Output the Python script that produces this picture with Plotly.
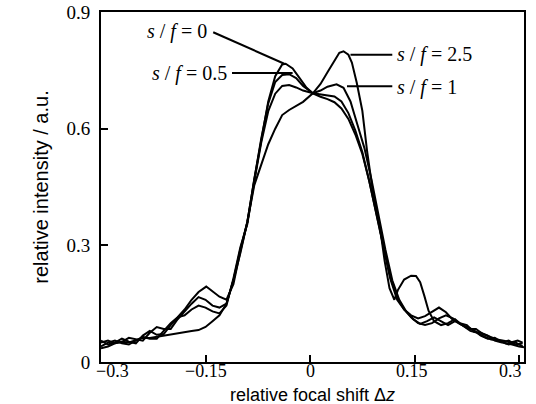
import plotly.graph_objects as go

# ---- data ----
x_sf0 = [-0.300, -0.290, -0.280, -0.270, -0.260, -0.250, -0.240, -0.230, -0.220, -0.210, -0.200, -0.190, -0.180, -0.170,
         -0.160, -0.149, -0.140, -0.130, -0.120, -0.110, -0.100, -0.090, -0.080, -0.070, -0.060, -0.050, -0.040, -0.035,
         -0.025, -0.015, -0.005, 0.004, 0.015, 0.025, 0.035, 0.045, 0.055, 0.065, 0.075, 0.085, 0.095, 0.105, 0.115, 0.125,
         0.135, 0.145, 0.155, 0.165, 0.175, 0.185, 0.195, 0.205, 0.215, 0.225, 0.235, 0.245, 0.255, 0.265, 0.275, 0.285,
         0.295, 0.305]
y_sf0 = [0.040, 0.050, 0.055, 0.048, 0.045, 0.055, 0.065, 0.060, 0.060, 0.080, 0.100, 0.115, 0.135, 0.160,
         0.180, 0.194, 0.182, 0.168, 0.160, 0.200, 0.285, 0.360, 0.470, 0.570, 0.670, 0.735, 0.765, 0.767,
         0.755, 0.730, 0.705, 0.691, 0.682, 0.676, 0.668, 0.652, 0.625, 0.585, 0.535, 0.465, 0.385, 0.300, 0.220, 0.165,
         0.135, 0.115, 0.100, 0.095, 0.100, 0.112, 0.120, 0.112, 0.098, 0.090, 0.082, 0.068, 0.060, 0.062, 0.052, 0.045,
         0.050, 0.040]

x_sf05 = [-0.300, -0.290, -0.280, -0.270, -0.260, -0.250, -0.240, -0.230, -0.220, -0.210, -0.200, -0.190, -0.180, -0.170,
          -0.160, -0.150, -0.140, -0.130, -0.120, -0.110, -0.100, -0.090, -0.080, -0.070, -0.060, -0.050, -0.040, -0.030,
          -0.020, -0.010, 0.004, 0.015, 0.025, 0.035, 0.045, 0.055, 0.065, 0.075, 0.085, 0.095, 0.105, 0.115, 0.125,
          0.135, 0.145, 0.155, 0.165, 0.175, 0.185, 0.195, 0.205, 0.215, 0.225, 0.235, 0.245, 0.255, 0.265, 0.275, 0.285,
          0.295, 0.305]
y_sf05 = [0.050, 0.055, 0.048, 0.052, 0.062, 0.058, 0.055, 0.075, 0.090, 0.085, 0.085, 0.110, 0.130, 0.150,
          0.167, 0.160, 0.145, 0.140, 0.150, 0.210, 0.290, 0.360, 0.470, 0.575, 0.665, 0.720, 0.738, 0.740,
          0.730, 0.710, 0.691, 0.688, 0.686, 0.683, 0.670, 0.640, 0.595, 0.540, 0.465, 0.380, 0.295, 0.215, 0.160,
          0.135, 0.120, 0.112, 0.118, 0.130, 0.140, 0.128, 0.108, 0.100, 0.095, 0.078, 0.075, 0.068, 0.055, 0.050, 0.055,
          0.045, 0.048]

x_sf1 = [-0.300, -0.290, -0.280, -0.270, -0.260, -0.250, -0.240, -0.230, -0.220, -0.210, -0.200, -0.190, -0.180, -0.170,
         -0.160, -0.150, -0.140, -0.130, -0.120, -0.110, -0.100, -0.090, -0.080, -0.070, -0.060, -0.050, -0.040, -0.030,
         -0.020, -0.010, 0.004, 0.015, 0.025, 0.038, 0.048, 0.058, 0.068, 0.078, 0.088, 0.098, 0.108, 0.118, 0.128,
         0.138, 0.148, 0.158, 0.168, 0.178, 0.188, 0.198, 0.208, 0.218, 0.228, 0.238, 0.248, 0.258, 0.268, 0.278, 0.288,
         0.298, 0.305]
y_sf1 = [0.055, 0.045, 0.050, 0.060, 0.052, 0.048, 0.068, 0.080, 0.070, 0.072, 0.095, 0.115, 0.120, 0.135,
         0.145, 0.140, 0.130, 0.125, 0.145, 0.215, 0.295, 0.355, 0.465, 0.565, 0.645, 0.690, 0.710, 0.712,
         0.706, 0.698, 0.691, 0.698, 0.708, 0.714, 0.705, 0.670, 0.610, 0.550, 0.470, 0.380, 0.290, 0.210, 0.160,
         0.130, 0.110, 0.098, 0.105, 0.115, 0.105, 0.095, 0.105, 0.095, 0.085, 0.085, 0.072, 0.065, 0.058, 0.055, 0.050,
         0.055, 0.050]

x_sf25 = [-0.300, -0.290, -0.280, -0.270, -0.260, -0.250, -0.240, -0.230, -0.220, -0.210, -0.200, -0.190, -0.180, -0.170,
          -0.160, -0.150, -0.140, -0.130, -0.120, -0.110, -0.100, -0.090, -0.080, -0.070, -0.060, -0.050, -0.040, -0.030,
          -0.020, -0.010, 0.004, 0.015, 0.025, 0.035, 0.042, 0.048, 0.055, 0.060, 0.067, 0.075, 0.082, 0.090, 0.100,
          0.107, 0.114, 0.121, 0.126, 0.135, 0.145, 0.152, 0.158, 0.164, 0.170, 0.178, 0.188, 0.198, 0.208, 0.218,
          0.230, 0.240, 0.250, 0.260, 0.270, 0.280, 0.290, 0.300, 0.307]
y_sf25 = [0.035, 0.040, 0.048, 0.052, 0.050, 0.055, 0.062, 0.062, 0.065, 0.068, 0.072, 0.075, 0.078, 0.080,
          0.082, 0.090, 0.105, 0.120, 0.150, 0.210, 0.280, 0.360, 0.455, 0.510, 0.560, 0.600, 0.635, 0.648,
          0.658, 0.669, 0.691, 0.715, 0.745, 0.775, 0.795, 0.799, 0.790, 0.770, 0.718, 0.646, 0.540, 0.440, 0.350,
          0.260, 0.190, 0.160, 0.185, 0.212, 0.222, 0.221, 0.205, 0.170, 0.132, 0.105, 0.095, 0.100, 0.110, 0.095,
          0.080, 0.075, 0.065, 0.058, 0.055, 0.048, 0.045, 0.040, 0.038]

series = [(x_sf0, y_sf0), (x_sf05, y_sf05), (x_sf1, y_sf1), (x_sf25, y_sf25)]

x_tick_vals = [-0.3, -0.15, 0, 0.15, 0.3]
x_tick_text = ["\u22120.3", "\u22120.15", "0", "0.15", "0.3"]
x_tick_nudge = [11, 0, 0, -3, -9]   # label offsets in px, as in the reference
y_tick_vals = [0, 0.3, 0.6, 0.9]
y_tick_text = ["0", "0.3", "0.6", "0.9"]

x_title = "relative focal shift \u0394<i>z</i>"
y_title = "relative intensity / a.u."

# labels: text, leader start (x0,y0), leader end (x1,y1), text position, anchor
labels = [
    ("<i>s</i> / <i>f</i> = 0",   (-0.139, 0.848), (-0.037, 0.767), (-0.145, 0.850), "right"),
    ("<i>s</i> / <i>f</i> = 0.5", (-0.112, 0.743), (-0.025, 0.743), (-0.116, 0.741), "right"),
    ("<i>s</i> / <i>f</i> = 2.5", (0.058, 0.790), (0.118, 0.790), (0.122, 0.790), "left"),
    ("<i>s</i> / <i>f</i> = 1",   (0.053, 0.709), (0.118, 0.709), (0.122, 0.707), "left"),
]

fig = go.Figure()
for xs, ys in series:
    fig.add_trace(go.Scatter(x=xs, y=ys, mode="lines",
                             line=dict(color="black", width=2), showlegend=False,
                             hoverinfo="skip"))

for text, p0, p1, pt, anc in labels:
    fig.add_shape(type="line", xref="x", yref="y", x0=p0[0], y0=p0[1], x1=p1[0], y1=p1[1],
                  line=dict(color="black", width=2))
    fig.add_annotation(x=pt[0], y=pt[1], xref="x", yref="y", text=text, showarrow=False,
                       xanchor=anc, yanchor="middle",
                       font=dict(family="Liberation Serif", size=20, color="black"))

# x tick labels (positioned on the x scale, nudged like the reference)
for v, t, dx in zip(x_tick_vals, x_tick_text, x_tick_nudge):
    fig.add_annotation(x=v, y=0, xref="x", yref="paper", text=t, showarrow=False,
                       xanchor="center", yanchor="top", yshift=2, xshift=dx, borderpad=0,
                       font=dict(family="Liberation Serif", size=18, color="black"))

# x-axis title
fig.add_annotation(x=0.5, y=0, xref="paper", yref="paper", text=x_title, showarrow=False,
                   xanchor="center", yanchor="bottom", yshift=-44, borderpad=0,
                   font=dict(family="Liberation Sans", size=18, color="black"))

fig.update_layout(
    width=536, height=404,
    margin=dict(l=101, r=12, t=12, b=42),
    paper_bgcolor="white", plot_bgcolor="white",
    font=dict(family="Liberation Serif", size=19, color="black"),
)
fig.update_xaxes(range=[-0.3, 0.307], tickvals=x_tick_vals, showticklabels=False,
                 showline=True, linecolor="black", linewidth=2, mirror=True,
                 ticks="inside", ticklen=7, tickwidth=1.5, tickcolor="black",
                 showgrid=False, zeroline=False, automargin=False)
fig.update_yaxes(range=[0, 0.9], tickvals=y_tick_vals, ticktext=y_tick_text,
                 showline=True, linecolor="black", linewidth=2, mirror=True,
                 ticks="inside", ticklen=7, tickwidth=1.5, tickcolor="black",
                 showgrid=False, zeroline=False, ticklabelstandoff=5, automargin=False,
                 title=dict(text=y_title, standoff=12,
                            font=dict(family="Liberation Sans", size=20)))

fig.write_html("out.html")
